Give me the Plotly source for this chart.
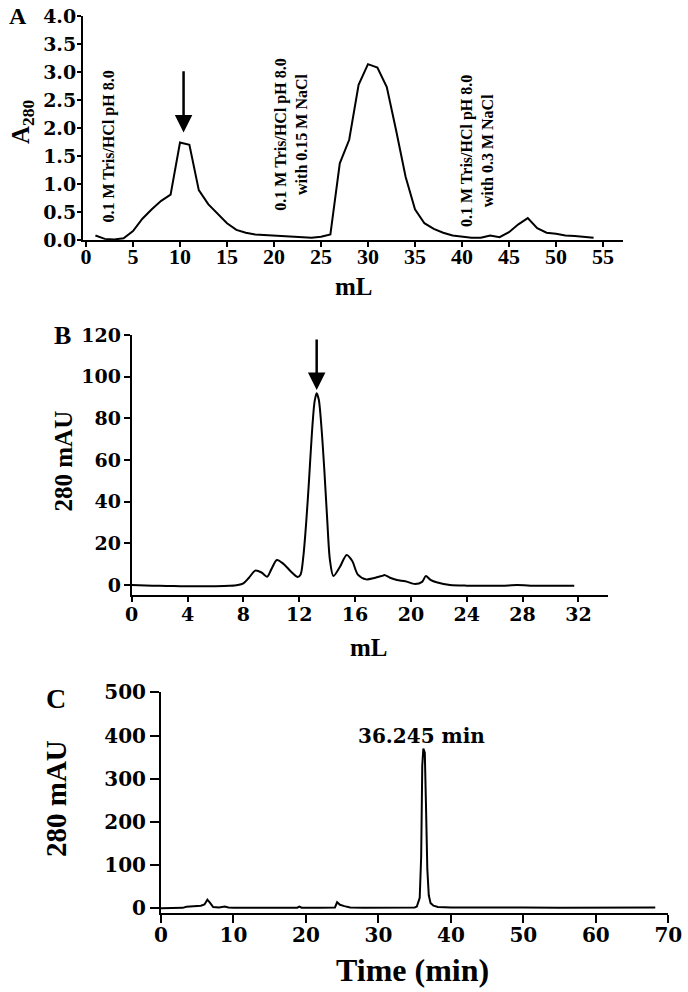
import plotly.graph_objects as go

# ---------------- Panel A data (anion exchange, A280 vs mL) ----------------
a_ml = [1, 2, 3, 4, 5, 6, 7, 8, 9, 10, 11, 12, 13, 14, 15, 16, 17, 18, 19, 20,
        21, 22, 23, 24, 25, 26, 27, 28, 29, 30, 31, 32, 33, 34, 35, 36, 37, 38,
        39, 40, 41, 42, 43, 44, 45, 46, 47, 48, 49, 50, 51, 52, 53, 54]
a_abs = [0.08, 0.02, 0.01, 0.03, 0.16, 0.38, 0.55, 0.70, 0.81, 1.74, 1.70, 0.89,
         0.64, 0.47, 0.30, 0.18, 0.13, 0.10, 0.09, 0.08, 0.07, 0.06, 0.05, 0.04,
         0.06, 0.10, 1.37, 1.79, 2.77, 3.14, 3.08, 2.73, 1.95, 1.13, 0.55, 0.30,
         0.20, 0.13, 0.08, 0.06, 0.04, 0.04, 0.08, 0.05, 0.14, 0.28, 0.39, 0.21,
         0.13, 0.11, 0.08, 0.07, 0.05, 0.04]
a_xticks = [0, 5, 10, 15, 20, 25, 30, 35, 40, 45, 50, 55]
a_yticks = [0.0, 0.5, 1.0, 1.5, 2.0, 2.5, 3.0, 3.5, 4.0]
a_labels = ["0.1 M Tris/HCl pH 8.0",
            "0.1 M Tris/HCl pH 8.0<br>with 0.15 M NaCl",
            "0.1 M Tris/HCl pH 8.0<br>with 0.3 M NaCl"]
a_label_x = [2.4, 21.8, 41.6]
a_label_y = [1.66, 1.88, 1.59]
a_arrow = (10.38, 1.92, 3.04)  # x, tip y, tail y

# ---------------- Panel B data (gel filtration, mAU vs mL) ----------------
b_ml = [0, 1, 2, 3, 4, 5, 6, 7, 7.6, 8.0, 8.4, 8.85, 9.3, 9.7, 10.0, 10.4, 10.9,
        11.4, 11.9, 12.1, 12.3, 12.5, 12.7, 12.9, 13.1, 13.25, 13.4, 13.6, 13.8,
        14.0, 14.2, 14.45, 14.9, 15.4, 15.8, 16.2, 16.8, 17.3, 17.7, 18.0, 18.1,
        18.5, 19.0, 19.6, 20.3, 20.8, 21.07, 21.4, 21.9, 22.8, 24, 25.2, 26.5,
        27.6, 29, 30.5, 31.7]
b_mau = [0, -0.2, -0.4, -0.5, -0.6, -0.6, -0.6, -0.4, 0, 0.8, 3.5, 6.9, 6.0,
         4.0, 7.5, 12, 10, 6.5, 3.8, 5, 14, 30, 50, 72, 88, 92, 89, 75, 55, 32,
         12, 4.3, 8.5, 14.4, 11.5, 5, 2.7, 3.2, 4.0, 4.5, 4.8, 3.5, 2.4, 1.8,
         0.5, 1.5, 4.3, 2.5, 1.2, 0, -0.3, -0.3, -0.4, 0, -0.4, -0.3, -0.3]
b_xticks = [0, 4, 8, 12, 16, 20, 24, 28, 32]
b_yticks = [0, 20, 40, 60, 80, 100, 120]
b_arrow = (13.25, 93.6, 118.6)

# ---------------- Panel C data (HPLC, mAU vs time) ----------------
c_min = [0, 2, 3, 3.5, 4.5, 5.5, 6.0, 6.4, 6.8, 7.2, 8, 8.8, 9.3, 10, 15, 18.8,
         19.1, 19.4, 22, 24.0, 24.3, 24.7, 25.3, 26.1, 28, 32.0, 32.3, 32.6,
         35.0, 35.3, 35.7, 35.9, 36.05, 36.2, 36.4, 36.55, 36.75, 36.95, 37.2,
         37.6, 38.2, 40, 43, 45, 50, 55, 60, 65, 68.2]
c_mau = [0, 0, 1, 3.5, 5, 6, 9, 20, 12, 3, 2, 4, 2, 1.5, 1.5, 1.5, 4, 1.5, 1.5,
         2, 14, 8, 5, 2, 1.5, 1.5, 3, 1.5, 2, 4, 24, 120, 330, 370, 360, 250,
         90, 30, 12, 6, 3, 2, 2.5, 1.5, 2, 1.5, 2, 1.5, 2]
c_xticks = [0, 10, 20, 30, 40, 50, 60, 70]
c_yticks = [0, 100, 200, 300, 400, 500]
c_peak_label = "36.245 min"
c_peak_pos = (36.0, 399)

FONT = "Liberation Serif"
WIDE = "DejaVu Serif"
W, H = 688, 992


def px(x):
    return x / W


def py(y):
    return 1 - y / H


def bold(size, family=FONT):
    return dict(family=family, size=size, color="black", weight="bold")


fig = go.Figure()
line = dict(color="black", width=2)
fig.add_trace(go.Scatter(x=a_ml, y=a_abs, mode="lines", line=line,
                         xaxis="x", yaxis="y", showlegend=False))
fig.add_trace(go.Scatter(x=b_ml, y=b_mau, mode="lines",
                         line=dict(color="black", width=2, shape="spline", smoothing=0.8),
                         xaxis="x2", yaxis="y2", showlegend=False))
fig.add_trace(go.Scatter(x=c_min, y=c_mau, mode="lines", line=line,
                         xaxis="x3", yaxis="y3", showlegend=False))

axcommon = dict(showline=True, linecolor="black", linewidth=2, ticks="outside",
                tickcolor="black", tickwidth=2, showgrid=False, zeroline=False,
                mirror=False, automargin=False)

fig.update_layout(
    template="none",
    width=W, height=H, margin=dict(l=0, r=0, t=0, b=0, pad=0, autoexpand=False),
    plot_bgcolor="white", paper_bgcolor="white", showlegend=False,
    xaxis=dict(domain=[px(83), px(623)], range=[-0.32, 57.13], tickvals=a_xticks,
               ticklen=5, tickfont=bold(22), ticklabelstandoff=-9, anchor="y", **axcommon),
    yaxis=dict(domain=[py(240), py(16)], range=[0, 4.0], tickvals=a_yticks,
               ticktext=[f"{v:.1f}" for v in a_yticks], ticklen=4,
               tickfont=bold(19, WIDE), ticklabelstandoff=-3, anchor="x", **axcommon),
    xaxis2=dict(domain=[px(131.7), px(608.3)], range=[0, 34.14], tickvals=b_xticks,
                ticklen=5, tickfont=bold(19, WIDE), ticklabelstandoff=-4, anchor="y2", **axcommon),
    yaxis2=dict(domain=[py(595), py(335)], range=[-4.8, 120], tickvals=b_yticks,
                ticklen=6, tickfont=bold(19, WIDE), ticklabelstandoff=-1, anchor="x2", **axcommon),
    xaxis3=dict(domain=[px(161), px(668.3)], range=[0, 70], tickvals=c_xticks,
                ticklen=8, tickfont=bold(20, WIDE), ticklabelstandoff=-5, anchor="y3", **axcommon),
    yaxis3=dict(domain=[py(913.3), py(692.3)], range=[-11.6, 500], tickvals=c_yticks,
                ticklen=9, tickfont=bold(20, WIDE), ticklabelstandoff=0, anchor="x3", **axcommon),
)

ann = []
# panel letters
for letter, (lx, ly), size in [("A", (17.5, 15.5), 24), ("B", (62.5, 336), 26),
                               ("C", (56, 698), 28)]:
    ann.append(dict(text=letter, x=px(lx), y=py(ly), xref="paper", yref="paper",
                    showarrow=False, font=bold(size), xanchor="center", yanchor="middle"))
# axis titles
ann.append(dict(text="A<sub>280</sub>", x=px(22), y=py(122), xref="paper", yref="paper",
                textangle=-90, showarrow=False, font=bold(25),
                xanchor="center", yanchor="middle"))
ann.append(dict(text="mL", x=px(354), y=py(286), xref="paper", yref="paper",
                showarrow=False, font=bold(25), xanchor="center", yanchor="middle"))
ann.append(dict(text="280 mAU", x=px(62.5), y=py(461), xref="paper", yref="paper",
                textangle=-90, showarrow=False, font=bold(25),
                xanchor="center", yanchor="middle"))
ann.append(dict(text="mL", x=px(369), y=py(647), xref="paper", yref="paper",
                showarrow=False, font=bold(25), xanchor="center", yanchor="middle"))
ann.append(dict(text="280 mAU", x=px(56), y=py(799), xref="paper", yref="paper",
                textangle=-90, showarrow=False, font=bold(29),
                xanchor="center", yanchor="middle"))
ann.append(dict(text="Time (min)", x=px(413), y=py(970), xref="paper", yref="paper",
                showarrow=False, font=bold(32), xanchor="center", yanchor="middle"))
# buffer labels in A
for t, lx, ly in zip(a_labels, a_label_x, a_label_y):
    ann.append(dict(text=t, x=lx, y=ly, xref="x", yref="y", textangle=-90,
                    showarrow=False, font=bold(16), xanchor="center", yanchor="middle"))
# arrows
ann.append(dict(text="", x=a_arrow[0], y=a_arrow[1], ax=a_arrow[0], ay=a_arrow[2],
                xref="x", yref="y", axref="x", ayref="y", showarrow=True,
                arrowhead=2, arrowsize=1.4, arrowwidth=2.5, arrowcolor="black"))
ann.append(dict(text="", x=b_arrow[0], y=b_arrow[1], ax=b_arrow[0], ay=b_arrow[2],
                xref="x2", yref="y2", axref="x2", ayref="y2", showarrow=True,
                arrowhead=2, arrowsize=1.4, arrowwidth=2.5, arrowcolor="black"))
# peak label in C
ann.append(dict(text=c_peak_label, x=c_peak_pos[0], y=c_peak_pos[1], xref="x3", yref="y3",
                showarrow=False, font=bold(20, WIDE), xanchor="center", yanchor="middle"))

fig.update_layout(annotations=ann)
fig.write_html("out.html", config={"displayModeBar": False},
               post_script="document.body.style.margin='0px';document.body.style.overflow='hidden';")
